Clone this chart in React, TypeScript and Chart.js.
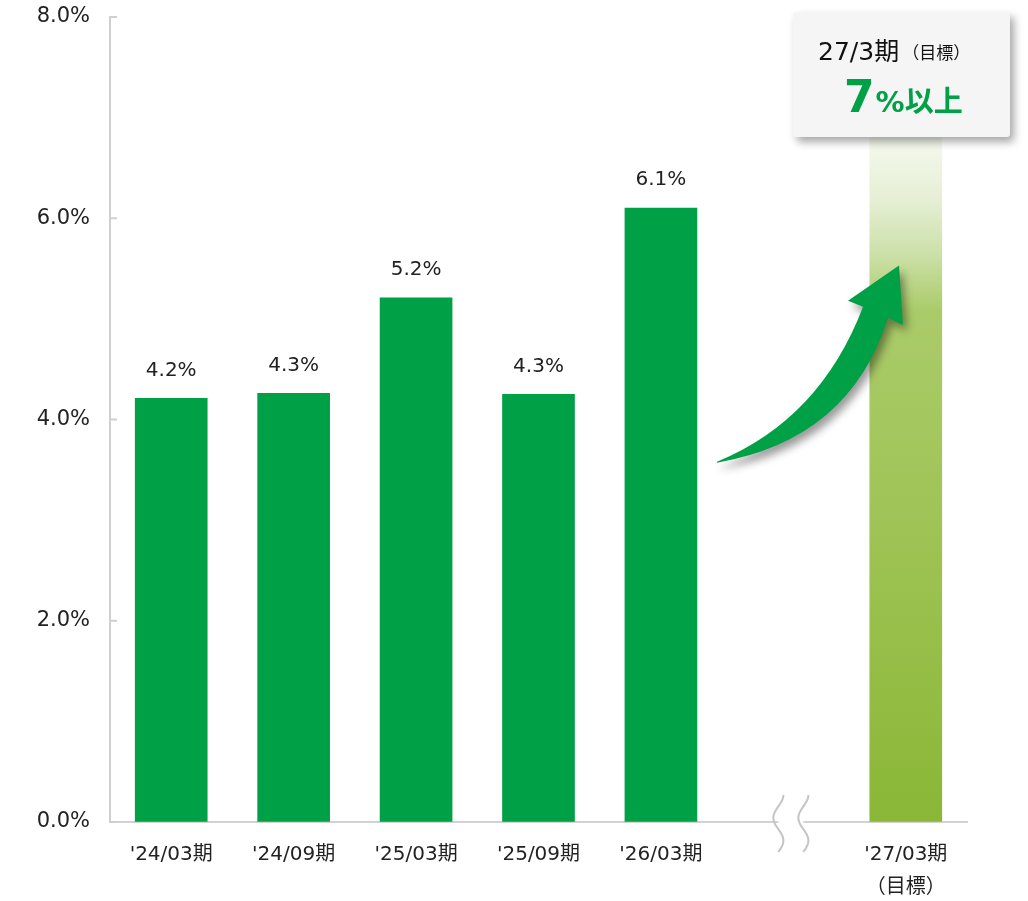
import React, { useEffect, useRef } from 'react';
import { Chart, registerables } from 'chart.js';

Chart.register(...registerables);

const FONT = '"DejaVu Sans", "Noto Sans CJK JP", sans-serif';

const categories: (string | string[])[] = ["'24/03期", "'24/09期", "'25/03期", "'25/09期", "'26/03期", '', ["'27/03期", '（目標）']];
const ratioValues: (number | null)[] = [4.21, 4.26, 5.21, 4.25, 6.1, null, 7.0];
const valueLabels = ['4.2%', '4.3%', '5.2%', '4.3%', '6.1%', '', ''];
const yTicks = [0, 2, 4, 6, 8];
const targetTitle = '27/3期';
const targetSub = '（目標）';
const targetNum = '7';
const targetSuffix = '%以上';

const BAR_GREEN = '#00a046';
const TARGET_INDEX = 6;
const BREAK_INDEX = 5;

const decorPlugin = {
  id: 'decor',
  afterDatasetsDraw(chart: any) {
    const ctx = chart.ctx;
    const meta = chart.getDatasetMeta(0);
    ctx.save();
    ctx.font = `20px ${FONT}`;
    ctx.fillStyle = '#222';
    ctx.textAlign = 'center';
    ctx.textBaseline = 'middle';
    valueLabels.forEach((lbl, i) => {
      if (!lbl) return;
      const el = meta.data[i];
      ctx.fillText(lbl, el.x, el.y - 28);
    });
    ctx.restore();
  },
  afterDraw(chart: any) {
    const { ctx, chartArea } = chart;
    const x = chart.scales.x;
    const y = chart.scales.y;
    const P = (c: number, v: number) => [x.getPixelForValue(c), y.getPixelForValue(v)];

    // inward ticks on y axis
    ctx.save();
    ctx.strokeStyle = '#cfcfcf';
    ctx.lineWidth = 2;
    yTicks.forEach((t) => {
      const py = y.getPixelForValue(t);
      ctx.beginPath();
      ctx.moveTo(chartArea.left, py);
      ctx.lineTo(chartArea.left + 7, py);
      ctx.stroke();
    });

    // axis break marks
    const bx = x.getPixelForValue(BREAK_INDEX);
    const c1 = bx - 5;
    const c2 = bx + 20;
    ctx.fillStyle = '#ffffff';
    ctx.fillRect(c1, chartArea.bottom - 3, c2 - c1, 6);
    ctx.strokeStyle = '#c4c4c4';
    ctx.lineWidth = 2;
    [c1, c2].forEach((cx) => {
      ctx.beginPath();
      const y0 = chartArea.bottom - 27;
      const h = 57;
      for (let k = 0; k <= 40; k++) {
        const t = k / 40;
        const px = cx + 5 * Math.cos(t * 2.5 * Math.PI);
        const py = y0 + h * t;
        if (k === 0) ctx.moveTo(px, py);
        else ctx.lineTo(px, py);
      }
      ctx.stroke();
    });
    ctx.restore();

    // curved arrow
    const tail = P(4.458, 3.58);
    const upCtrl = P(5.3, 4.0);
    const upEnd = P(5.651, 5.12);
    const wingL = P(5.528, 5.18);
    const tip = P(5.945, 5.53);
    const wingR = P(5.977, 4.94);
    const lowEnd = P(5.855, 5.01);
    const lowCtrl = P(5.545, 3.8);
    ctx.save();
    ctx.shadowColor = 'rgba(0,0,0,0.4)';
    ctx.shadowBlur = 8;
    ctx.shadowOffsetX = 4;
    ctx.shadowOffsetY = 6;
    ctx.fillStyle = '#00a046';
    ctx.beginPath();
    ctx.moveTo(tail[0], tail[1]);
    ctx.quadraticCurveTo(upCtrl[0], upCtrl[1], upEnd[0], upEnd[1]);
    ctx.lineTo(wingL[0], wingL[1]);
    ctx.lineTo(tip[0], tip[1]);
    ctx.lineTo(wingR[0], wingR[1]);
    ctx.lineTo(lowEnd[0], lowEnd[1]);
    ctx.quadraticCurveTo(lowCtrl[0], lowCtrl[1], tail[0], tail[1] + 1);
    ctx.closePath();
    ctx.fill();
    ctx.restore();

    // target callout box
    const bxL = 793, byT = 12, bw = 217, bh = 125;
    ctx.save();
    ctx.shadowColor = 'rgba(0,0,0,0.35)';
    ctx.shadowBlur = 9;
    ctx.shadowOffsetX = 4;
    ctx.shadowOffsetY = 5;
    ctx.fillStyle = '#f5f5f5';
    ctx.beginPath();
    if ((ctx as any).roundRect) (ctx as any).roundRect(bxL, byT, bw, bh, 3);
    else ctx.rect(bxL, byT, bw, bh);
    ctx.fill();
    ctx.restore();

    ctx.save();
    ctx.textBaseline = 'alphabetic';
    ctx.textAlign = 'left';
    ctx.fillStyle = '#111';
    ctx.font = `25px ${FONT}`;
    ctx.fillText(targetTitle, bxL + 25, byT + 48);
    const w1 = ctx.measureText(targetTitle).width;
    ctx.font = `17px ${FONT}`;
    ctx.fillText(targetSub, bxL + 25 + w1 + 3, byT + 47);

    ctx.fillStyle = BAR_GREEN;
    ctx.font = `bold 44px ${FONT}`;
    ctx.fillText(targetNum, bxL + 51, byT + 100);
    const w2 = ctx.measureText(targetNum).width;
    ctx.font = `bold 29px ${FONT}`;
    ctx.fillText(targetSuffix, bxL + 51 + w2 + 1, byT + 100);
    ctx.restore();
  },
};

export default function App() {
  const canvasRef = useRef<HTMLCanvasElement | null>(null);

  useEffect(() => {
    if (!canvasRef.current) return;
    const chart = new Chart(canvasRef.current, {
      type: 'bar',
      data: {
        labels: categories as any,
        datasets: [
          {
            data: ratioValues as any,
            backgroundColor: (c: any) => {
              if (c.dataIndex !== TARGET_INDEX) return BAR_GREEN;
              const { chart: ch } = c;
              const area = ch.chartArea;
              if (!area) return '#8cb83a';
              const ys = ch.scales.y;
              const top = ys.getPixelForValue(ratioValues[TARGET_INDEX] as number);
              const bottom = ys.getPixelForValue(0);
              const g = ch.ctx.createLinearGradient(0, top, 0, bottom);
              g.addColorStop(0, '#ffffff');
              g.addColorStop(0.031, '#f4f8ec');
              g.addColorStop(0.116, '#e6efd5');
              g.addColorStop(0.19, '#cde1ab');
              g.addColorStop(0.275, '#aacb69');
              g.addColorStop(0.52, '#a2c55a');
              g.addColorStop(1, '#8ab736');
              return g;
            },
            borderWidth: 0,
            barThickness: 72,
          },
        ],
      },
      options: {
        responsive: true,
        maintainAspectRatio: false,
        animation: false,
        layout: { padding: { left: 0, right: 61, top: 17, bottom: 0 } },
        plugins: {
          legend: { display: false },
          tooltip: { enabled: false },
        },
        scales: {
          x: {
            grid: { display: false, drawTicks: false },
            border: { color: '#d2d2d2', width: 2 },
            ticks: {
              font: { family: FONT, size: 20, lineHeight: 1.65 },
              color: '#222',
              padding: 16,
              maxRotation: 0,
              autoSkip: false,
            },
            afterFit: (s: any) => {
              s.height = 79;
            },
          },
          y: {
            min: 0,
            max: 8,
            grid: { display: true, drawOnChartArea: false, drawTicks: false },
            border: { color: '#cfcfcf', width: 2 },
            ticks: {
              stepSize: 2,
              font: { family: FONT, size: 21 },
              color: '#222',
              padding: 20,
              callback: (v: any) => Number(v).toFixed(1) + '%',
            },
            afterFit: (s: any) => {
              s.width = 110;
              s.paddingTop = 0;
              s.paddingBottom = 0;
            },
          },
        },
      },
      plugins: [decorPlugin],
    });
    return () => chart.destroy();
  }, []);

  return (
    <div style={{ position: 'absolute', left: 0, top: 0, width: 1028, height: 901, background: '#fff' }}>
      <canvas ref={canvasRef} />
    </div>
  );
}
